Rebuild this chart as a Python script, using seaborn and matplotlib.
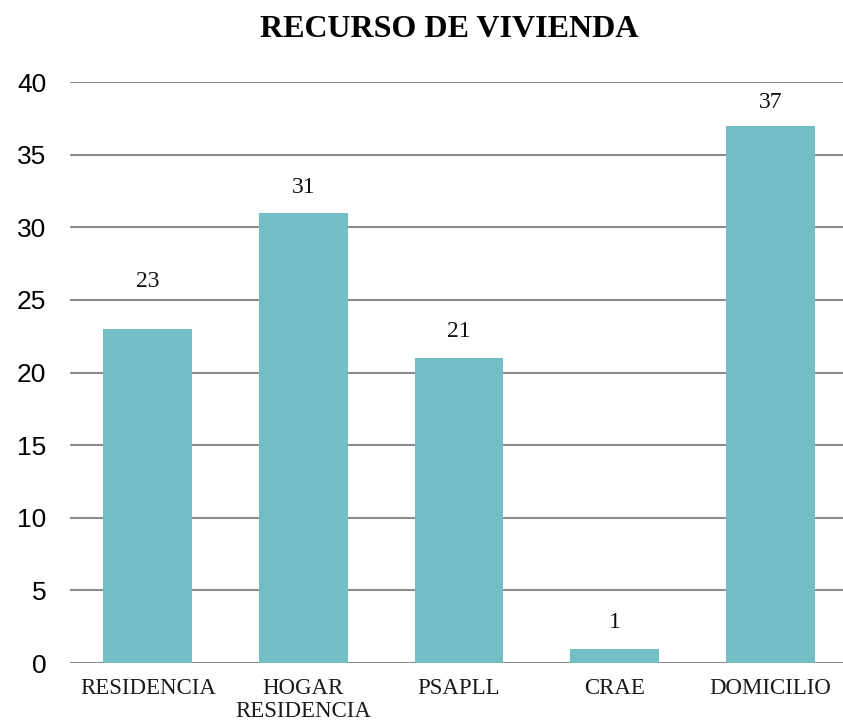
import matplotlib
matplotlib.use("Agg")
import matplotlib.pyplot as plt
import seaborn as sns
import pandas as pd

# values
categories = ["RESIDENCIA", "HOGAR\nRESIDENCIA", "PSAPLL", "CRAE", "DOMICILIO"]
counts = [23, 31, 21, 1, 37]
y_ticks = [0, 5, 10, 15, 20, 25, 30, 35, 40]

bar_color = "#72BEC4"
grid_color = "#8C8C8C"

sns.set_theme(style="white")

df = pd.DataFrame({"recurso": categories, "n": counts})

fig = plt.figure(figsize=(8.43, 7.27), dpi=100)
ax = fig.add_axes([0.083, 0.088, 0.923, 0.799])

sns.barplot(data=df, x="recurso", y="n", color=bar_color, width=0.57,
            saturation=1, linewidth=0, ax=ax, zorder=3)

ax.set_ylim(0, 40)
ax.set_yticks(y_ticks)
ax.set_yticklabels([str(t) for t in y_ticks], family="Liberation Sans", fontsize=19, color="black")
ax.set_xticks(range(len(categories)))
ax.set_xticklabels(categories, family="Liberation Serif", fontsize=16.5, linespacing=1.12,
                   color="#1a1a1a")
ax.tick_params(axis="both", length=0)
ax.tick_params(axis="x", pad=11)
ax.tick_params(axis="y", pad=17)
ax.set_xlabel("")
ax.set_ylabel("")

ax.grid(axis="y", color=grid_color, linewidth=1.5, zorder=0)
ax.set_axisbelow(True)
for s in ["left", "right", "top", "bottom"]:
    ax.spines[s].set_visible(False)

# value labels above the bars; the first one sits higher in the original
raise_px = [48, 25, 27, 26, 23]
for i, v in enumerate(counts):
    ax.annotate(str(v), (i, v), xytext=(0, raise_px[i] * 0.72), textcoords="offset points",
                ha="center", va="center", family="Liberation Serif", fontsize=17, color="#111111")

fig.text(0.533, 0.959, "RECURSO DE VIVIENDA", ha="center", va="center",
         family="Liberation Serif", fontweight="bold", fontsize=23, color="black")

fig.savefig("out.png", dpi=100)
